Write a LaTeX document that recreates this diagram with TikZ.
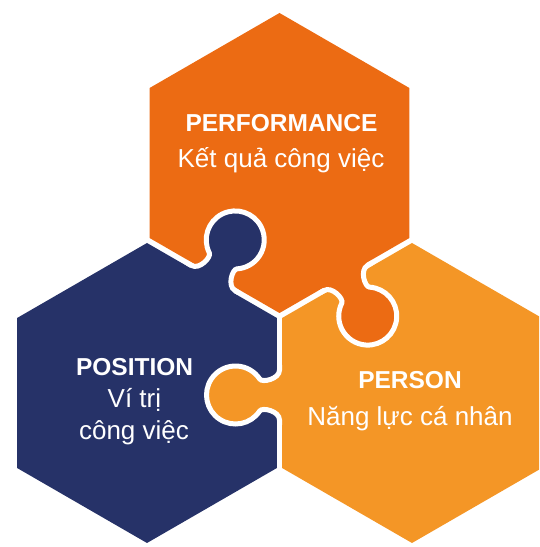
\documentclass[tikz,border=0pt]{standalone}
\usepackage{fontspec}
\setmainfont{Liberation Sans}
\usepackage{xcolor}
\definecolor{perfOrange}{RGB}{236,107,19}
\definecolor{posBlue}{RGB}{38,50,104}
\definecolor{persOrange}{RGB}{244,150,38}

% one jigsaw tab, local frame: u along the shared edge, v into the other piece
\newcommand{\tabcurve}{(-25,0) .. controls (-16,0) and (-12,17.2) .. (-16,19.8)
  arc[start angle=236.5, end angle=-56.5, radius=29]
  .. controls (12,17.2) and (16,0) .. (25,0)}

\tikzset{
  tabline/.style={draw=white, line width=5pt},
  title/.style={font=\fontsize{24.5}{28}\selectfont\bfseries, text=white, anchor=base, inner sep=0pt},
  subtitle/.style={font=\fontsize{26}{32}\selectfont, text=white, anchor=base, inner sep=0pt}
}

\begin{document}
\begin{tikzpicture}[x=1pt, y=1pt]
  \clip (0,0) rectangle (539,547);
  % hexagon centres
  \coordinate (T) at (279.5,384);
  \coordinate (L) at (147,154);
  \coordinate (R) at (412,154);
  % midpoints of the shared edges
  \coordinate (TL) at (213.25,269);
  \coordinate (TR) at (345.75,269);
  \coordinate (LR) at (279.5,152);

  % three hexagons
  \foreach \c/\col in {T/perfOrange, L/posBlue, R/persOrange}{
    \fill[\col, shift={(\c)}] (90:150) -- (150:150) -- (210:150) -- (270:150)
      -- (330:150) -- (30:150) -- cycle;
  }
  % tabs
  \foreach \m/\rot/\col in {TL/-30/posBlue, TR/-150/perfOrange, LR/90/persOrange}{
    \begin{scope}[shift={(\m)}, rotate=\rot]
      \fill[\col] (-25,-4) -- \tabcurve -- (25,-4) -- cycle;
      \draw[tabline] (-30,0) -- \tabcurve -- (30,0);
    \end{scope}
  }

  \node[title] (perf) at (281.5,415.4) {PERFORMANCE};
  \node[subtitle] (perfSub) at (281,379) {Kết quả công việc};
  \node[title] (pos) at (134.6,171.3) {POSITION};
  \node[subtitle] (posSubA) at (134.4,139) {Ví trị};
  \node[subtitle] (posSubB) at (134,107) {công việc};
  \node[title] (pers) at (410,158.5) {PERSON};
  \node[subtitle] (persSub) at (410,121) {Năng lực cá nhân};
\end{tikzpicture}
\end{document}
